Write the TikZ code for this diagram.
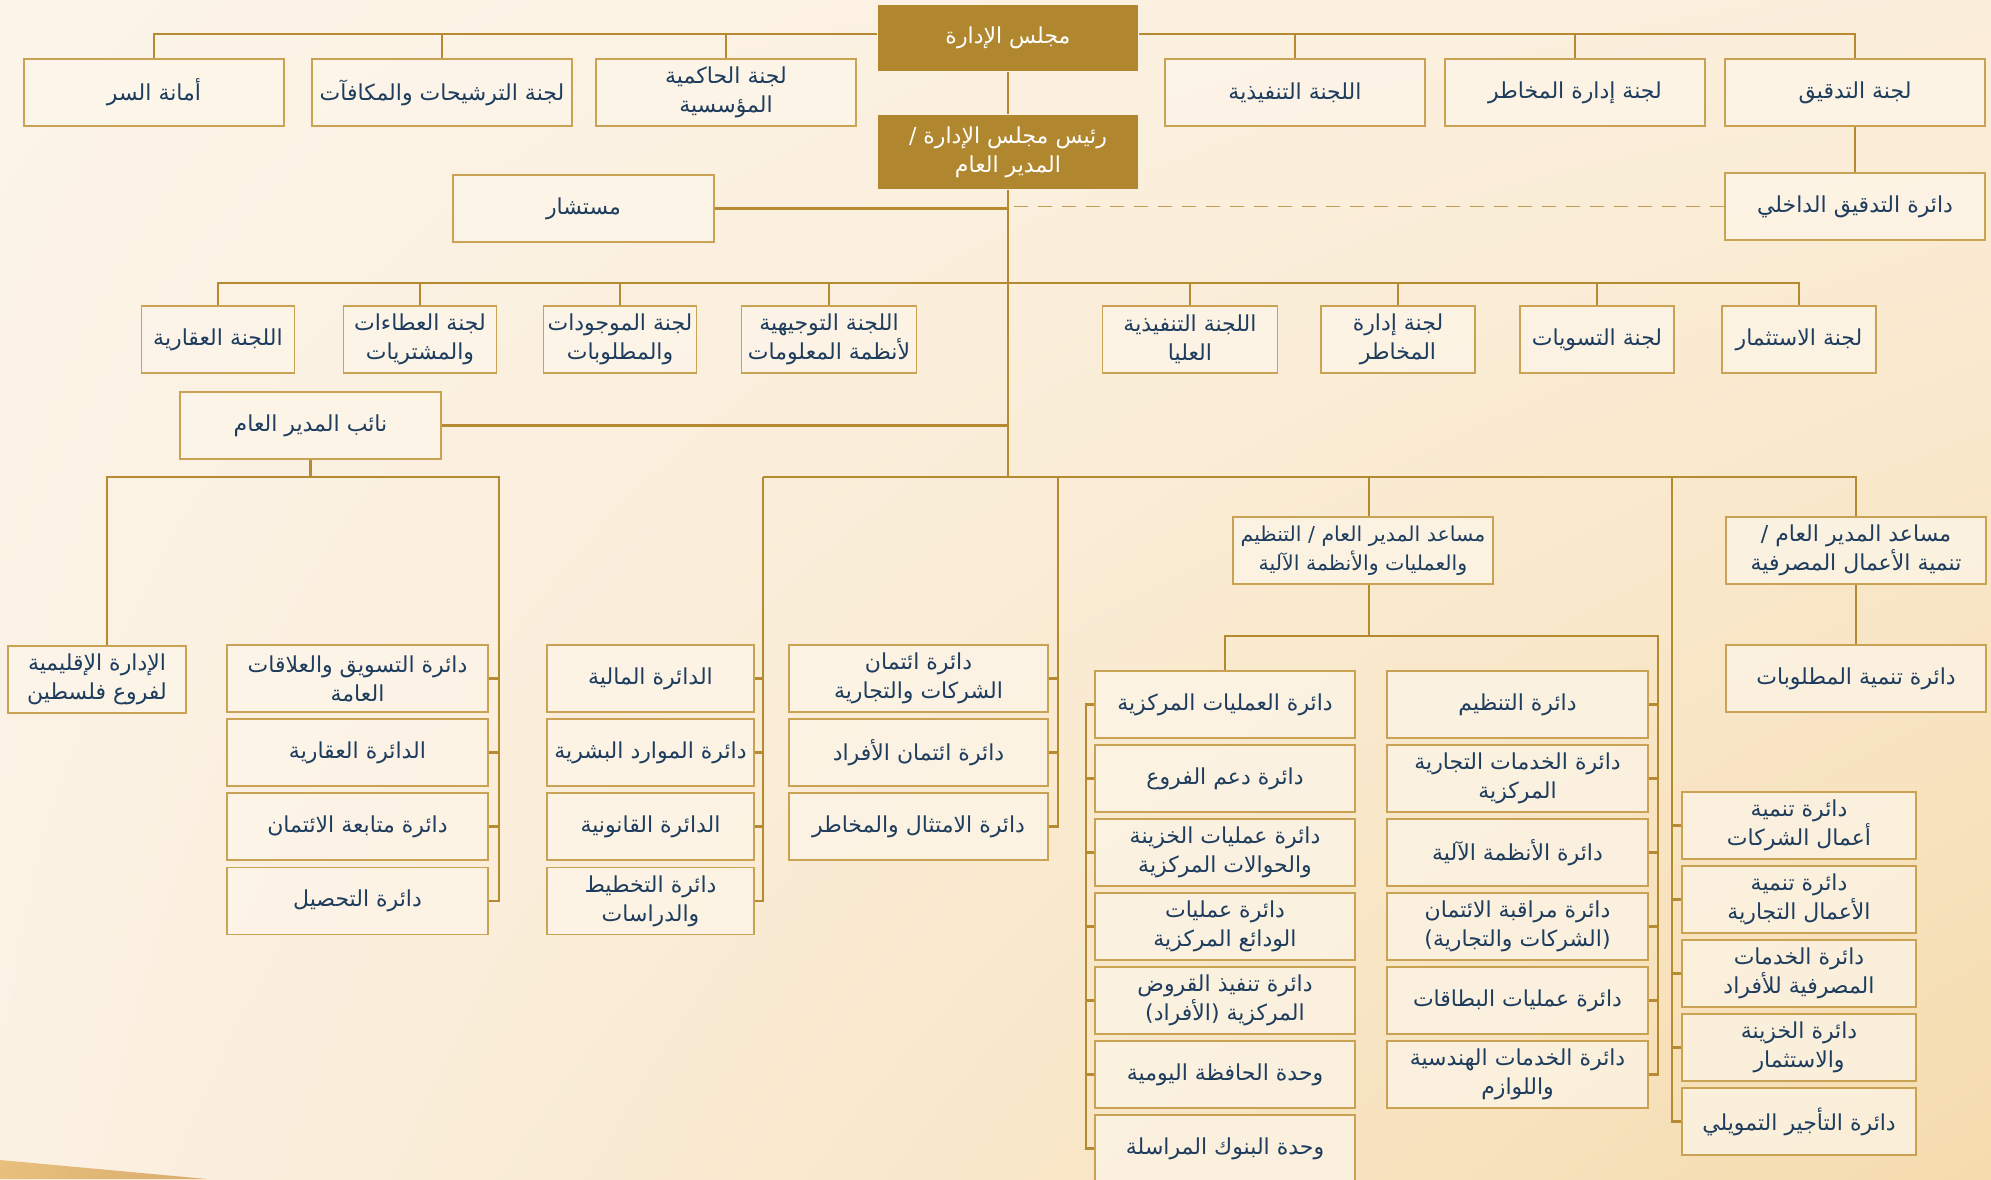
\documentclass[tikz,border=0pt]{standalone}
\usepackage{fontspec}
\newfontfamily\arabicfont[Script=Arabic]{DejaVu Sans}
\TeXXeTstate=1
\usepackage{xcolor}
\usepackage{tikz}
\usetikzlibrary{calc,shadings}

\definecolor{gold}{HTML}{B0872F}
\definecolor{linegold}{HTML}{B58A30}
\definecolor{boxline}{HTML}{C9A253}
\definecolor{boxfill}{HTML}{FDF6EA}
\definecolor{navy}{HTML}{1E3D5E}
\definecolor{creamA}{HTML}{FCF4E8}
\definecolor{creamB}{HTML}{FBEEDB}
\definecolor{creamC}{HTML}{FBF1E3}
\definecolor{peach}{HTML}{F5DCAE}
\definecolor{wedgeA}{HTML}{E8C07C}
\definecolor{wedgeB}{HTML}{D9AC6E}

\newcommand{\artxt}[1]{\beginR #1\endR}

\tikzset{
  orgbox/.style={draw=boxline, fill=boxfill, fill opacity=0.7, text opacity=1,
    line width=1.6pt, minimum width=260, minimum height=67, inner sep=2pt,
    align=center, text=navy, font=\arabicfont\fontsize{22}{29}\selectfont},
  goldbox/.style={orgbox, draw=none, fill=gold, fill opacity=1, text=white},
  link/.style={draw=linegold, line width=2.2pt},
  dottedlink/.style={draw=linegold!85, line width=1.5pt, dash pattern=on 14pt off 10pt},
}

\begin{document}
\begin{tikzpicture}[x=1pt, y=-1pt]
  \useasboundingbox (0,0) rectangle (1991,1179);
  \shade[upper left=creamA, upper right=creamB, lower left=creamC, lower right=peach] (0,0) rectangle (1991,1179);
  \shade[left color=wedgeA, right color=wedgeB] (0,1160) -- (207,1179) -- (0,1179) -- cycle;

  % board and its committees
  \node[goldbox, minimum height=66] (board) at (1008,38) {\artxt{مجلس الإدارة}};
  \node[orgbox] (s1) at (154,92.5) {\artxt{أمانة السر}};
  \node[orgbox] (s2) at (442,92.5) {\artxt{لجنة الترشيحات والمكافآت}};
  \node[orgbox] (s3) at (726,92.5) {\artxt{لجنة الحاكمية}\\\artxt{المؤسسية}};
  \node[orgbox] (s4) at (1295,92.5) {\artxt{اللجنة التنفيذية}};
  \node[orgbox] (s5) at (1575,92.5) {\artxt{لجنة إدارة المخاطر}};
  \node[orgbox] (s6) at (1855,92.5) {\artxt{لجنة التدقيق}};
  \node[goldbox, minimum height=74] (ceo) at (1008,152) {\artxt{رئيس مجلس الإدارة /}\\\artxt{المدير العام}};
  \node[orgbox, minimum width=261] (adv) at (583.5,208.5) {\artxt{مستشار}};
  \node[orgbox] (iad) at (1855,206.5) {\artxt{دائرة التدقيق الداخلي}};

  % management committees
  \node[orgbox, minimum width=153] (k1) at (218,339.5) {\artxt{اللجنة العقارية}};
  \node[orgbox, minimum width=153] (k2) at (420,339.5) {\artxt{لجنة العطاءات}\\\artxt{والمشتريات}};
  \node[orgbox, minimum width=153] (k3) at (620,339.5) {\artxt{لجنة الموجودات}\\\artxt{والمطلوبات}};
  \node[orgbox, minimum width=175] (k4) at (829,339.5) {\artxt{اللجنة التوجيهية}\\\artxt{لأنظمة المعلومات}};
  \node[orgbox, minimum width=175] (k5) at (1190,339.5) {\artxt{اللجنة التنفيذية}\\\artxt{العليا}};
  \node[orgbox, minimum width=154] (k6) at (1398,339.5) {\artxt{لجنة إدارة}\\\artxt{المخاطر}};
  \node[orgbox, minimum width=154] (k7) at (1597,339.5) {\artxt{لجنة التسويات}};
  \node[orgbox, minimum width=154] (k8) at (1799,339.5) {\artxt{لجنة الاستثمار}};
  \node[orgbox, minimum width=261] (dep) at (310.5,425.5) {\artxt{نائب المدير العام}};

  % deputy general manager
  \node[orgbox, minimum width=178] (reg) at (97,679.5) {\artxt{الإدارة الإقليمية}\\\artxt{لفروع فلسطين}};
  \node[orgbox, minimum width=261] (d1) at (357.5,678.5) {\artxt{دائرة التسويق والعلاقات}\\\artxt{العامة}};
  \node[orgbox, minimum width=261] (d2) at (357.5,752.5) {\artxt{الدائرة العقارية}};
  \node[orgbox, minimum width=261] (d3) at (357.5,826.5) {\artxt{دائرة متابعة الائتمان}};
  \node[orgbox, minimum width=261] (d4) at (357.5,901) {\artxt{دائرة التحصيل}};

  % departments under the general manager
  \node[orgbox, minimum width=207] (a1) at (650.5,678.5) {\artxt{الدائرة المالية}};
  \node[orgbox, minimum width=207] (a2) at (650.5,752.5) {\artxt{دائرة الموارد البشرية}};
  \node[orgbox, minimum width=207] (a3) at (650.5,826.5) {\artxt{الدائرة القانونية}};
  \node[orgbox, minimum width=207] (a4) at (650.5,901) {\artxt{دائرة التخطيط}\\\artxt{والدراسات}};
  \node[orgbox, minimum width=259] (b1) at (918.5,678.5) {\artxt{دائرة ائتمان}\\\artxt{الشركات والتجارية}};
  \node[orgbox, minimum width=259] (b2) at (918.5,752.5) {\artxt{دائرة ائتمان الأفراد}};
  \node[orgbox, minimum width=259] (b3) at (918.5,826.5) {\artxt{دائرة الامتثال والمخاطر}};

  % assistant general managers
  \node[orgbox, font=\arabicfont\fontsize{20.5}{29}\selectfont] (agm1) at (1363,550.5) {\artxt{مساعد المدير العام / التنظيم}\\\artxt{والعمليات والأنظمة الآلية}};
  \node[orgbox] (agm2) at (1856,550.5) {\artxt{مساعد المدير العام /}\\\artxt{تنمية الأعمال المصرفية}};
  \node[orgbox] (dev) at (1856,678.5) {\artxt{دائرة تنمية المطلوبات}};

  \node[orgbox] (l1) at (1225,704.5) {\artxt{دائرة العمليات المركزية}};
  \node[orgbox] (l2) at (1225,778.5) {\artxt{دائرة دعم الفروع}};
  \node[orgbox] (l3) at (1225,852.5) {\artxt{دائرة عمليات الخزينة}\\\artxt{والحوالات المركزية}};
  \node[orgbox] (l4) at (1225,926.5) {\artxt{دائرة عمليات}\\\artxt{الودائع المركزية}};
  \node[orgbox] (l5) at (1225,1000.5) {\artxt{دائرة تنفيذ القروض}\\\artxt{المركزية (الأفراد)}};
  \node[orgbox] (l6) at (1225,1074.5) {\artxt{وحدة الحافظة اليومية}};
  \node[orgbox] (l7) at (1225,1148.5) {\artxt{وحدة البنوك المراسلة}};

  \node[orgbox, minimum width=261] (r1) at (1517.5,704.5) {\artxt{دائرة التنظيم}};
  \node[orgbox, minimum width=261] (r2) at (1517.5,778.5) {\artxt{دائرة الخدمات التجارية}\\\artxt{المركزية}};
  \node[orgbox, minimum width=261] (r3) at (1517.5,852.5) {\artxt{دائرة الأنظمة الآلية}};
  \node[orgbox, minimum width=261] (r4) at (1517.5,926.5) {\artxt{دائرة مراقبة الائتمان}\\\artxt{(الشركات والتجارية)}};
  \node[orgbox, minimum width=261] (r5) at (1517.5,1000.5) {\artxt{دائرة عمليات البطاقات}};
  \node[orgbox, minimum width=261] (r6) at (1517.5,1074.5) {\artxt{دائرة الخدمات الهندسية}\\\artxt{واللوازم}};

  \node[orgbox, minimum width=234] (g1) at (1799,825.5) {\artxt{دائرة تنمية}\\\artxt{أعمال الشركات}};
  \node[orgbox, minimum width=234] (g2) at (1799,899.5) {\artxt{دائرة تنمية}\\\artxt{الأعمال التجارية}};
  \node[orgbox, minimum width=234] (g3) at (1799,973.5) {\artxt{دائرة الخدمات}\\\artxt{المصرفية للأفراد}};
  \node[orgbox, minimum width=234] (g4) at (1799,1047.5) {\artxt{دائرة الخزينة}\\\artxt{والاستثمار}};
  \node[orgbox, minimum width=234] (g5) at (1799,1121.5) {\artxt{دائرة التأجير التمويلي}};

  % buses
  \coordinate (bus1) at (1008,34);
  \coordinate (bus2) at (1008,283);
  \coordinate (hub) at (1008,477);
  \coordinate (rg) at (107,477);
  \coordinate (dr) at (499,477);
  \coordinate (ca) at (763,477);
  \coordinate (cb) at (1058,477);
  \coordinate (og) at (1369,477);
  \coordinate (cc) at (1672,477);
  \coordinate (sbr) at (1658,636);
  \coordinate (lb) at (1086,636);

  \draw[link] (board.west |- bus1) -| (s1.north);
  \draw[link] (board.east |- bus1) -| (s6.north);
  \foreach \n in {s2,s3,s4,s5}
    \draw[link] (\n.north) -- (\n.north |- bus1);
  \draw[link] (board) -- (ceo);
  \draw[link] (ceo) -- (hub);
  \draw[link] (adv.east) -- (adv.east -| hub);
  \draw[link] (s6) -- (iad);
  \draw[dottedlink] (iad.west) -- (iad.west -| hub);

  \draw[link] (k1.north) |- (bus2 -| k8.north) -- (k8.north);
  \foreach \n in {k2,k3,k4,k5,k6,k7}
    \draw[link] (\n.north) -- (\n.north |- bus2);
  \draw[link] (dep.east) -- (dep.east -| hub);

  \draw[link] (dep.south) -- (dep.south |- hub);
  \draw[link] (rg |- reg.north) -- (rg) -- (dr) |- (d4.east);
  \foreach \n in {d1,d2,d3}
    \draw[link] (\n.east) -- (\n.east -| dr);

  \draw[link] (ca) -| (agm2.north);
  \draw[link] (ca) |- (a4.east);
  \foreach \n in {a1,a2,a3}
    \draw[link] (\n.east) -- (\n.east -| ca);
  \draw[link] (cb) |- (b3.east);
  \foreach \n in {b1,b2}
    \draw[link] (\n.east) -- (\n.east -| cb);

  \draw[link] (og) -- (og |- agm1.north);
  \draw[link] (og |- agm1.south) -- (og |- sbr);
  \draw[link] (l1.north) |- (sbr) |- (r6.east);
  \foreach \n in {r1,r2,r3,r4,r5}
    \draw[link] (\n.east) -- (\n.east -| sbr);
  \draw[link] (l1.west) -- (l1.west -| lb) |- (l7.west);
  \foreach \n in {l2,l3,l4,l5,l6}
    \draw[link] (\n.west) -- (\n.west -| lb);

  \draw[link] (cc) |- (g5.west);
  \foreach \n in {g1,g2,g3,g4}
    \draw[link] (\n.west) -- (\n.west -| cc);
  \draw[link] (agm2) -- (dev);
\end{tikzpicture}
\end{document}
